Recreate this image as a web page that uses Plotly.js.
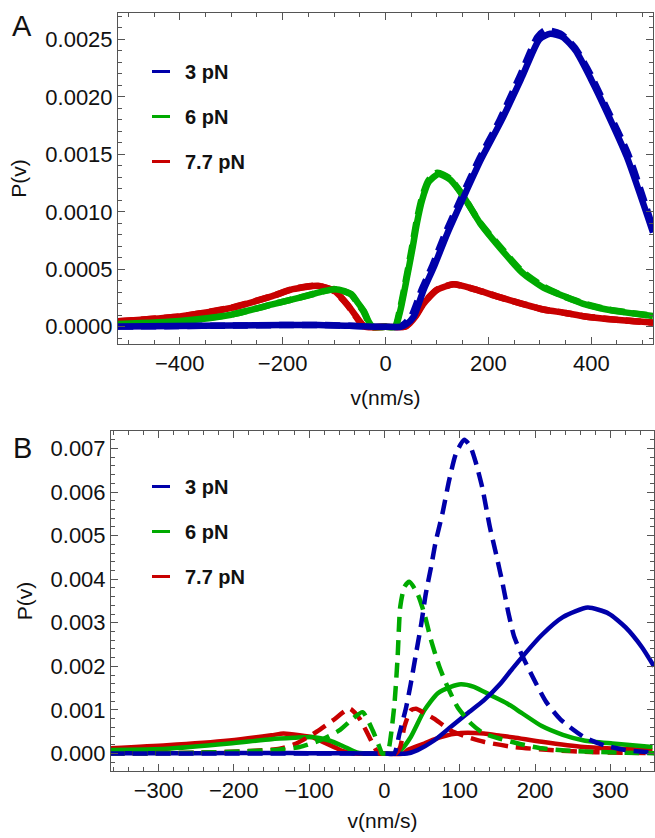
<!DOCTYPE html>
<html>
<head>
<meta charset="utf-8">
<script src="https://cdn.plot.ly/plotly-3.0.1.min.js"></script>
<style>
html,body{margin:0;padding:0;background:#fff;}
#chart{width:655px;height:838px;}
.legendlines path{stroke-width:3px !important; stroke-dasharray:none !important; d:path("M7,0h18");}
</style>
</head>
<body>
<div id="chart"></div>
<script>
// ---------- Panel A data ----------
const seriesNames = ["3 pN", "6 pN", "7.7 pN"];

const vA_blue_solid = [-520,-300,-200,-130,-70,-20,0,30,40,55,74,94,120,152,185,226,266,299,320,345,370,400,428,469,520];
const pA_blue_solid = [0.000002,0.00001,0.000015,0.000016,0.000008,0,0,0,0.00002,0.00009,0.00032,0.00052,0.00081,0.00113,0.00145,0.0018,0.00218,0.0025,0.00255,0.00252,0.0024,0.00215,0.00189,0.00148,0.00082];
const vA_blue_dash = [-520,-300,-200,-130,-70,-20,0,25,35,50,70,90,116,148,181,222,262,295,310,340,368,398,428,471,520];
const pA_blue_dash = [0.000002,0.00001,0.000015,0.000016,0.000008,0,0,0,0.00002,0.00009,0.00032,0.00052,0.00081,0.00113,0.00145,0.0018,0.00219,0.00252,0.00258,0.00255,0.00243,0.0022,0.00192,0.00151,0.00086];

const vA_green_solid = [-520,-400,-300,-220,-155,-120,-98,-80,-66,-54,-42,-32,-25,0,19,29,42,52,61,71,84,103,126,152,184,220,266,307,350,388,430,469,520];
const pA_green_solid = [0.000024,0.00005,0.000105,0.000194,0.000267,0.00031,0.000327,0.00031,0.000282,0.00021,0.000135,0.00004,0,0,0,0.000145,0.000436,0.00067,0.0009,0.0011,0.00126,0.00133,0.00128,0.00113,0.0009,0.0007,0.00047,0.00034,0.00026,0.000195,0.00015,0.000123,0.000093];
const vA_green_dash = [-520,-400,-300,-220,-155,-120,-100,-82,-67,-55,-43,-33,-26,0,18,28,41,51,60,70,83,101,125,151,183,220,266,307,350,388,430,469,520];
const pA_green_dash = [0.000025,0.00005,0.000106,0.000195,0.000268,0.00031,0.000328,0.00031,0.000282,0.00021,0.000135,0.00004,0,0,0,0.00015,0.00044,0.00068,0.00091,0.00111,0.00127,0.00134,0.00129,0.00114,0.00091,0.00071,0.00048,0.00035,0.00026,0.0002,0.000152,0.000125,0.000095];

const vA_red_solid = [-520,-400,-300,-220,-180,-131,-99,-74,-50,-40,0,38,47,60,74,100,133,171,220,266,307,350,388,450,520];
const pA_red_solid = [0.000047,0.00009,0.000165,0.000267,0.000327,0.000356,0.000312,0.000194,0.000047,0,0,0,0.00003,0.0001,0.0002,0.00032,0.00037,0.00033,0.00026,0.0002,0.00015,0.00012,0.00009,0.00006,0.000035];
const vA_red_dash = [-520,-400,-300,-220,-180,-133,-101,-75,-51,-41,0,37,46,59,73,99,131,170,220,266,307,350,388,450,520];
const pA_red_dash = [0.000048,0.00009,0.000166,0.000268,0.000328,0.000357,0.000313,0.000195,0.000048,0,0,0,0.00003,0.0001,0.0002,0.00032,0.00037,0.00033,0.00026,0.0002,0.00015,0.00012,0.00009,0.00006,0.000036];

// ---------- Panel B data ----------
const vB_blue_solid = [-365,-250,-150,-100,-50,0,30,44,66,88,110,132,154,172,209,237,270,298,320,342,358];
const pB_blue_solid = [0.000005,0.00001,0.000012,0.00001,0.000005,0,0,0.00008,0.0003,0.00061,0.00092,0.00122,0.0016,0.00199,0.00272,0.00313,0.00335,0.00321,0.0029,0.00244,0.002];
const vB_blue_dash = [-365,0,13,20,29,35,42,49,55,62,68,77,86,95,106,114,121,130,140,148,157,165,172,181,198,215,234,265,292,320,358];
const pB_blue_dash = [0,0,0,0.00046,0.00107,0.0016,0.00229,0.00298,0.00367,0.00428,0.00485,0.0055,0.00627,0.00688,0.0072,0.00705,0.0067,0.0061,0.0052,0.0046,0.0039,0.0032,0.0027,0.00232,0.00172,0.00118,0.00078,0.00038,0.00019,0.00008,0.00002];

const vB_green_solid = [-365,-289,-206,-150,-120,-95,-73,-51,-35,0,15,22,35,53,70.6,88,101.6,119,141,163,181.6,209,237,265,303,356];
const pB_green_solid = [0.00008,0.00011,0.00023,0.00033,0.00036,0.00038,0.0003,0.00014,0.00002,0,0,0.00008,0.00038,0.00099,0.00138,0.00153,0.00159,0.00153,0.00134,0.00115,0.00094,0.00063,0.00043,0.0003,0.00023,0.00015];
const vB_green_dash = [-365,-250,-190,-140,-112.6,-86,-60,-42,-29,-15.5,-6.6,-3,0,4,13,17.6,21,26.5,33,44,53,62,73,84,97,115,132,154,180,209,240,275,320,358];
const pB_green_dash = [0.000005,0.00002,0.00005,0.00009,0.00015,0.0003,0.00053,0.0008,0.00095,0.00053,0.00015,0,0,0,0.00107,0.00222,0.00336,0.00382,0.00394,0.00367,0.00321,0.0026,0.00199,0.00153,0.00107,0.00069,0.00046,0.00034,0.00022,0.00012,0.00007,0.00004,0.00002,0.00001];

const vB_red_solid = [-365,-289,-206,-150,-134,-112.6,-95,-86,-73,-64,-56,-46,-40,0,25,31,53,75,101.6,132,154,172,209,265,356];
const pB_red_solid = [0.00012,0.00019,0.0003,0.00042,0.00046,0.00042,0.00037,0.0003,0.0002,0.00013,0.00006,0.00002,0,0,0,0.00008,0.00023,0.00038,0.00047,0.00046,0.00041,0.00037,0.00027,0.00015,0.00008];
const vB_red_dash = [-365,-250,-178,-139,-117,-90,-68.5,-46,-33,-20,-11,-6,0,15,21,26.5,35,42,53,66,88,110,132,172,220,280,358];
const pB_red_dash = [0.000005,0.00002,0.00006,0.00011,0.00023,0.0005,0.00076,0.00103,0.0008,0.00038,0.00008,0,0,0,0.00015,0.00061,0.00099,0.00103,0.00093,0.0008,0.00053,0.00038,0.00027,0.00015,0.00008,0.00003,0.00001];

// ---------- styles ----------
const colBlue = "rgb(0,0,170)";
const colGreen = "rgb(0,170,0)";
const colRed = "rgb(200,0,0)";
const FONT = "Liberation Sans, Arial, sans-serif";
const frameCol = "#555";
const dashPat = "15px,8px";

function tr(x, y, color, width, dash, idx, xa, ya, legend, group, show) {
  return {
    type: "scatter", mode: "lines", x: x, y: y,
    xaxis: xa, yaxis: ya, name: seriesNames[idx], legendrank: idx + 1,
    line: {color: color, width: width, dash: dash, shape: "spline", smoothing: 0.6},
    showlegend: show, legend: legend, legendgroup: group,
    hoverinfo: "skip"
  };
}

const wA = 6.5, wB = 4.5;
const data = [
  // Panel A
  tr(vA_blue_dash, pA_blue_dash, colBlue, wA, dashPat, 0, "x", "y", "legend", "a3", false),
  tr(vA_green_dash, pA_green_dash, colGreen, wA, dashPat, 1, "x", "y", "legend", "a6", false),
  tr(vA_red_dash, pA_red_dash, colRed, wA, dashPat, 2, "x", "y", "legend", "a7", false),
  tr(vA_red_solid, pA_red_solid, colRed, wA, "solid", 2, "x", "y", "legend", "a7", true),
  tr(vA_green_solid, pA_green_solid, colGreen, wA, "solid", 1, "x", "y", "legend", "a6", true),
  tr(vA_blue_solid, pA_blue_solid, colBlue, wA, "solid", 0, "x", "y", "legend", "a3", true),
  // Panel B
  tr(vB_red_solid, pB_red_solid, colRed, wB, "solid", 2, "x2", "y2", "legend2", "b7", true),
  tr(vB_green_solid, pB_green_solid, colGreen, wB, "solid", 1, "x2", "y2", "legend2", "b6", true),
  tr(vB_blue_solid, pB_blue_solid, colBlue, wB, "solid", 0, "x2", "y2", "legend2", "b3", true),
  tr(vB_red_dash, pB_red_dash, colRed, wB, dashPat, 2, "x2", "y2", "legend2", "b7", false),
  tr(vB_green_dash, pB_green_dash, colGreen, wB, dashPat, 1, "x2", "y2", "legend2", "b6", false),
  tr(vB_blue_dash, pB_blue_dash, colBlue, wB, dashPat, 0, "x2", "y2", "legend2", "b3", false)
];

function axis(extra) {
  return Object.assign({
    showline: true, linecolor: frameCol, linewidth: 1, mirror: "allticks",
    ticks: "inside", ticklen: 7, tickwidth: 1, tickcolor: frameCol,
    showgrid: false, zeroline: false,
    tickfont: {family: FONT, size: 22, color: "#111"},
    fixedrange: true
  }, extra);
}

const legendBase = {
  xanchor: "left", yanchor: "top", bgcolor: "rgba(0,0,0,0)", borderwidth: 0,
  font: {family: FONT, size: 20, color: "#111", weight: 700},
  tracegroupgap: 16, itemwidth: 30, traceorder: "grouped"
};

const titleFont = {family: FONT, size: 21, color: "#111"};

const layout = {
  width: 655, height: 838,
  margin: {l: 0, r: 0, t: 0, b: 0},
  paper_bgcolor: "#fff", plot_bgcolor: "#fff",
  showlegend: true,
  xaxis: axis({domain: [118/655, 653/655], range: [-520, 520], anchor: "y",
    dtick: 200, tick0: 0,
    minor: {ticks: "inside", ticklen: 4, dtick: 50, tick0: 0, tickcolor: frameCol},
    title: {text: "v(nm/s)", font: titleFont, standoff: 14}}),
  yaxis: axis({domain: [1 - 344/838, 1 - 13/838], range: [-0.00015, 0.00273], anchor: "x",
    dtick: 0.0005, tick0: 0, tickformat: ".4f",
    minor: {ticks: "inside", ticklen: 4, dtick: 0.0001, tick0: 0, tickcolor: frameCol},
    title: {text: "P(v)", font: titleFont, standoff: 12}}),
  xaxis2: axis({domain: [111/655, 654/655], range: [-363, 358], anchor: "y2",
    dtick: 100, tick0: 0,
    minor: {ticks: "inside", ticklen: 4, dtick: 20, tick0: 0, tickcolor: frameCol},
    title: {text: "v(nm/s)", font: titleFont, standoff: 10}}),
  yaxis2: axis({domain: [1 - 771/838, 1 - 431/838], range: [-0.0004, 0.0074], anchor: "x2",
    dtick: 0.001, tick0: 0, tickformat: ".3f",
    minor: {ticks: "inside", ticklen: 4, dtick: 0.0002, tick0: 0, tickcolor: frameCol},
    title: {text: "P(v)", font: titleFont, standoff: 12}}),
  legend: Object.assign({x: 145/655, y: 1 - 52/838}, legendBase),
  legend2: Object.assign({x: 145/655, y: 1 - 467/838}, legendBase),
  annotations: [
    {text: "A", xref: "paper", yref: "paper", x: 22/655, y: 1 - 26/838, showarrow: false,
     xanchor: "center", yanchor: "middle", font: {family: FONT, size: 29, color: "#111"}},
    {text: "B", xref: "paper", yref: "paper", x: 22/655, y: 1 - 448/838, showarrow: false,
     xanchor: "center", yanchor: "middle", font: {family: FONT, size: 29, color: "#111"}}
  ]
};

Plotly.newPlot("chart", data, layout, {staticPlot: true, displayModeBar: false});
</script>
</body>
</html>
